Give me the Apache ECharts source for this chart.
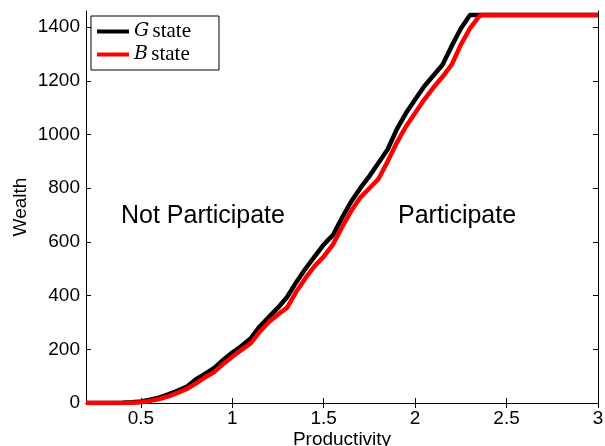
<!DOCTYPE html>
<html>
<head>
<meta charset="utf-8">
<script src="https://cdn.jsdelivr.net/npm/echarts@6/dist/echarts.min.js"></script>
<style>html,body{margin:0;padding:0;background:#fff;}#c{width:605px;height:446px;}</style>
</head>
<body>
<div id="c"></div>
<script>
var xG = [0.2,0.25,0.3,0.35,0.4,0.45,0.5,0.55,0.6,0.65,0.7,0.75,0.8,0.85,0.9,0.95,1.0,1.05,1.1,1.15,1.2,1.25,1.3,1.35,1.4,1.45,1.5,1.55,1.6,1.65,1.7,1.75,1.8,1.85,1.9,1.95,2.0,2.05,2.1,2.15,2.2,2.25,2.3,3.0];
var wealthG = [0,0,0,0,1,3,6,12,20,32,45,60,88,108,130,160,188,212,240,285,320,355,395,450,500,545,590,625,690,750,800,845,895,945,1020,1080,1130,1180,1220,1260,1330,1395,1445,1445];
var xB = [0.2,0.25,0.3,0.35,0.4,0.45,0.5,0.55,0.6,0.65,0.7,0.75,0.8,0.85,0.9,0.95,1.0,1.05,1.1,1.15,1.2,1.25,1.3,1.35,1.4,1.45,1.5,1.55,1.6,1.65,1.7,1.75,1.8,1.85,1.9,1.95,2.0,2.05,2.1,2.15,2.2,2.25,2.3,2.35,2.365,3.0];
var wealthB = [0,0,0,0,0,1,3,8,15,25,38,52,72,95,115,145,172,198,222,265,302,330,355,415,465,510,545,590,655,715,765,800,835,900,970,1030,1080,1130,1175,1215,1260,1335,1395,1440,1445,1445];
var xTicks = [0.5,1,1.5,2,2.5,3];
var yTicks = [0,200,400,600,800,1000,1200,1400];
var seriesNames = ['G', 'B'];

function pairs(xs, ys){ return xs.map(function(x,i){ return [x, ys[i]]; }); }

var font = 'Liberation Sans, Arial, Helvetica, sans-serif';
var chart = echarts.init(document.getElementById('c'));
var axisCommon = {
  axisLine: {show: true, lineStyle: {color: '#000', width: 1}},
  splitLine: {show: false}
};
chart.setOption({
  animation: false,
  backgroundColor: '#fff',
  grid: {left: 86, right: 7, top: 11, bottom: 43, containLabel: false, outerBoundsMode: 'none'},
  legend: {
    left: 91, top: 16,
    orient: 'vertical',
    backgroundColor: '#fff',
    borderColor: '#000', borderWidth: 1,
    padding: [5, 28, 5, 6],
    itemGap: 2,
    itemWidth: 32, itemHeight: 4,
    icon: 'rect',
    data: seriesNames,
    formatter: function(n){ return '{i|' + n + '} {s|state}'; },
    textStyle: {
      color: '#000',
      rich: {
        i: {fontFamily: 'DejaVu Serif, Liberation Serif, serif', fontStyle: 'italic', fontSize: 19, lineHeight: 20},
        s: {fontFamily: 'Liberation Serif, DejaVu Serif, serif', fontSize: 21, lineHeight: 20}
      }
    }
  },
  xAxis: [Object.assign({
    type: 'value', min: 0.2, max: 3,
    name: 'Productivity', nameLocation: 'middle', nameGap: 27, nameMoveOverlap: false,
    nameTextStyle: {fontFamily: font, fontSize: 19, color: '#000'},
    axisTick: {show: true, inside: true, length: 5, lineStyle: {color: '#000'}, customValues: xTicks},
    axisLabel: {fontFamily: font, fontSize: 19, color: '#000', margin: 6, customValues: xTicks,
      formatter: function(v){ return String(v); }}
  }, axisCommon), Object.assign({
    type: 'value', min: 0.2, max: 3, position: 'top',
    axisTick: {show: true, inside: true, length: 5, lineStyle: {color: '#000'}, customValues: xTicks},
    axisLabel: {show: false}
  }, axisCommon)],
  yAxis: [Object.assign({
    type: 'value', min: 0, max: 1460,
    name: 'Wealth', nameLocation: 'middle', nameGap: 56, nameMoveOverlap: false,
    nameTextStyle: {fontFamily: font, fontSize: 19, color: '#000'},
    axisTick: {show: true, inside: true, length: 5, lineStyle: {color: '#000'}, customValues: yTicks},
    axisLabel: {fontFamily: font, fontSize: 19, color: '#000', margin: 6, customValues: yTicks,
      formatter: function(v){ return String(v); }}
  }, axisCommon), Object.assign({
    type: 'value', min: 0, max: 1460, position: 'right',
    axisTick: {show: true, inside: true, length: 5, lineStyle: {color: '#000'}, customValues: yTicks},
    axisLabel: {show: false}
  }, axisCommon)],
  graphic: [
    {type: 'text', left: 121, top: 204, style: {text: 'Not Participate', font: '25px ' + font, fill: '#000'}},
    {type: 'text', left: 398, top: 204, style: {text: 'Participate', font: '25px ' + font, fill: '#000'}}
  ],
  series: [
    {name: 'G', type: 'line', data: pairs(xG, wealthG), showSymbol: false, symbol: 'none',
     lineStyle: {color: '#000', width: 4.5}, itemStyle: {color: '#000'}},
    {name: 'B', type: 'line', data: pairs(xB, wealthB), showSymbol: false, symbol: 'none',
     lineStyle: {color: '#ff0000', width: 4.5}, itemStyle: {color: '#ff0000'}}
  ]
});
</script>
</body>
</html>
